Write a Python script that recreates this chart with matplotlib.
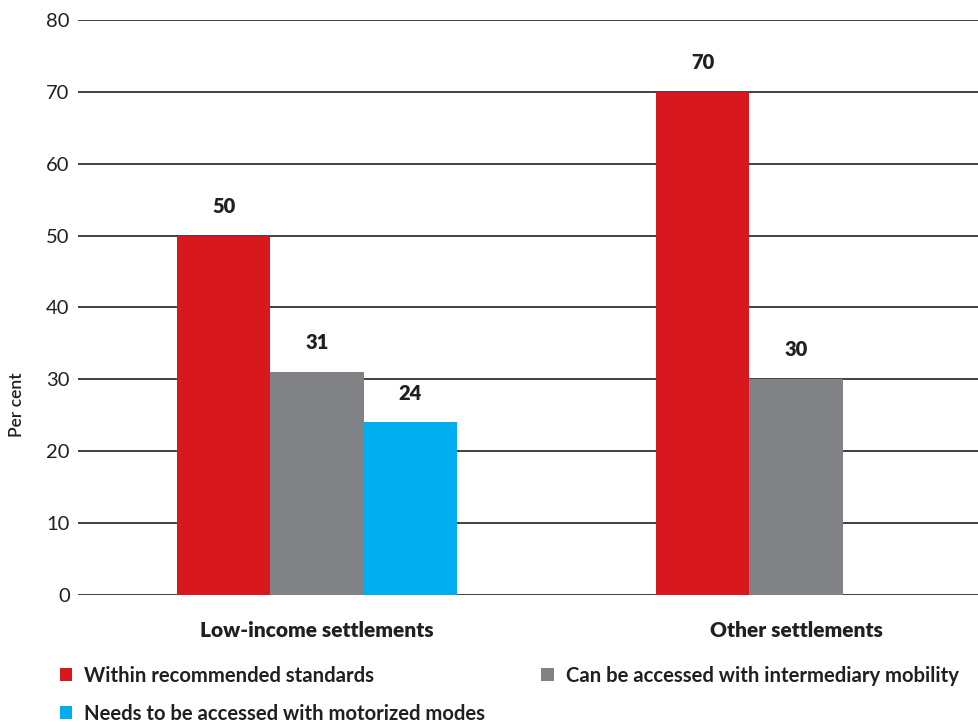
import numpy as np
import matplotlib
matplotlib.use('Agg')
import matplotlib.pyplot as plt

# data
groups = ['Low-income settlements', 'Other settlements']
series = ['Within recommended standards',
          'Can be accessed with intermediary mobility',
          'Needs to be accessed with motorized modes']
within = [50, 70]
intermediary = [31, 30]
motorized = [24, None]

colors = ['#d7191f', '#808285', '#00aeef']
text_col = '#231f20'

plt.rcParams['font.family'] = ['Lato', 'DejaVu Sans']

fig = plt.figure(figsize=(9.79, 7.22), dpi=100)
ax = fig.add_axes([0.0797, 0.1759, 0.9203, 0.7964])

x = np.arange(len(groups))
w = 0.195
handles = []
for i, (vals, col, name) in enumerate(zip([within, intermediary, motorized], colors, series)):
    xs = [xi + (i - 1) * w for xi, v in zip(x, vals) if v is not None]
    ys = [v for v in vals if v is not None]
    b = ax.bar(xs, ys, width=w, color=col, label=name, zorder=3, linewidth=0)
    handles.append(b)
    for xx, yy in zip(xs, ys):
        ax.text(xx, yy + 4.1, str(yy), ha='center', va='center',
                fontsize=14.5, fontweight='heavy', color=text_col)

ax.set_ylim(0, 80)
ax.set_xlim(-0.499, 1.382)
ax.set_yticks(range(0, 81, 10))
ax.yaxis.grid(True, color=text_col, lw=1.2, zorder=0)
ax.set_axisbelow(True)
for s in ax.spines.values():
    s.set_visible(False)
ax.tick_params(axis='y', length=0, pad=6, labelsize=14.5, labelcolor=text_col)
ax.set_xticks(x)
ax.set_xticklabels(groups, fontsize=15, fontweight='heavy', color=text_col)
ax.tick_params(axis='x', length=0, pad=19)

fig.text(17 / 979, 1 - 405 / 722, 'Per cent', rotation=90, ha='center', va='center',
         fontsize=12.5, fontweight='semibold', color=text_col)

leg = fig.legend([handles[0], handles[2], handles[1]],
                 [series[0], series[2], series[1]],
                 ncol=2, loc='upper left', bbox_to_anchor=(0.061, 0.078),
                 frameon=False, fontsize=14.6, handlelength=0.62, handleheight=0.62,
                 handletextpad=0.6, columnspacing=2.75, labelspacing=0.9,
                 borderaxespad=0, borderpad=0)
for t in leg.get_texts():
    t.set_color(text_col)
    t.set_fontweight('bold')

fig.savefig('out.png', dpi=100)
